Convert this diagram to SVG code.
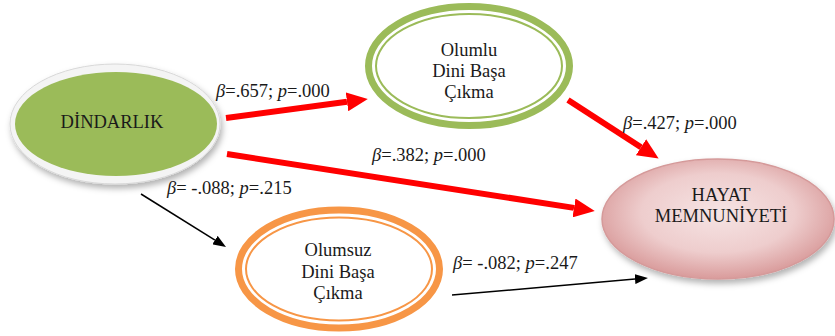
<svg xmlns="http://www.w3.org/2000/svg" width="835" height="336" viewBox="0 0 835 336">
<defs>
<style>
.node{font-family:"Liberation Serif","Times New Roman",serif;font-size:18.5px;fill:#1a1a1a;text-anchor:middle}
.lbl{font-family:"Liberation Serif","Times New Roman",serif;font-size:18.5px;fill:#1a1a1a}
.it{font-style:italic}
.red{stroke:#ff0000;stroke-width:6;fill:none}
.blk{stroke:#000;stroke-width:1.5;fill:none}
</style>
<marker id="hr" markerUnits="userSpaceOnUse" markerWidth="21" markerHeight="19" refX="0" refY="9.5" orient="auto"><path d="M0,0 L21,9.5 L0,19 z" fill="#ff0000"/></marker>
<marker id="hb" markerUnits="userSpaceOnUse" markerWidth="13" markerHeight="10" refX="0" refY="5" orient="auto"><path d="M0,0 L13,5 L0,10 z" fill="#000"/></marker>
<radialGradient id="pink" cx="0.5" cy="0.45" r="0.55">
<stop offset="0" stop-color="#f6e4e4"/>
<stop offset="0.6" stop-color="#eecdcd"/>
<stop offset="1" stop-color="#d99b9b"/>
</radialGradient>
<filter id="sh" x="-20%" y="-20%" width="140%" height="150%">
<feDropShadow dx="2" dy="4" stdDeviation="3" flood-color="#000" flood-opacity="0.3"/>
</filter>
</defs>

<g id="connectors">
<path class="red" d="M226,118 L347,101.8" marker-end="url(#hr)"/>
<path class="red" d="M227,154 L574,207.9" marker-end="url(#hr)"/>
<path class="red" d="M568,100 L641,147.2" marker-end="url(#hr)"/>
<path class="blk" d="M141,194 L215,240.1" marker-end="url(#hb)"/>
<path class="blk" d="M452,295 L635,279.1" marker-end="url(#hb)"/>
<text class="lbl" x="216" y="97"><tspan class="it">β</tspan>=.657; <tspan class="it">p</tspan>=.000</text>
<text class="lbl" x="372" y="161"><tspan class="it">β</tspan>=.382; <tspan class="it">p</tspan>=.000</text>
<text class="lbl" x="623" y="129"><tspan class="it">β</tspan>=.427; <tspan class="it">p</tspan>=.000</text>
<text class="lbl" x="167" y="194"><tspan class="it">β</tspan>= -.088; <tspan class="it">p</tspan>=.215</text>
<text class="lbl" x="453" y="269"><tspan class="it">β</tspan>= -.082; <tspan class="it">p</tspan>=.247</text>
</g>

<g id="dindarlik">
<ellipse cx="115" cy="124" rx="105" ry="60" fill="#f4f4f4" stroke="#d8d8d8" stroke-width="1" filter="url(#sh)"/>
<ellipse cx="116" cy="124" rx="101" ry="52" fill="#9bbb59"/>
<text class="node" x="112" y="128">DİNDARLIK</text>
</g>

<g id="olumlu">
<ellipse cx="469" cy="66" rx="100.5" ry="59.5" fill="#fff" stroke="#9bbb59" stroke-width="7"/>
<ellipse cx="469" cy="66" rx="93" ry="52" fill="none" stroke="#9bbb59" stroke-width="2"/>
<text class="node" x="469" y="56">Olumlu</text>
<text class="node" x="469" y="77">Dini Başa</text>
<text class="node" x="469" y="98">Çıkma</text>
</g>

<g id="olumsuz">
<ellipse cx="339" cy="269" rx="100.5" ry="59" fill="#fff" stroke="#f79646" stroke-width="7"/>
<ellipse cx="339" cy="269" rx="93" ry="51.5" fill="none" stroke="#f79646" stroke-width="2"/>
<text class="node" x="338" y="256">Olumsuz</text>
<text class="node" x="338" y="278">Dini Başa</text>
<text class="node" x="338" y="299">Çıkma</text>
</g>

<g id="hayat">
<ellipse cx="718" cy="219" rx="116" ry="60" fill="url(#pink)" stroke="#d59a9a" stroke-width="1.5" filter="url(#sh)"/>
<text class="node" x="721" y="201">HAYAT</text>
<text class="node" x="721" y="222">MEMNUNİYETİ</text>
</g>
</svg>
